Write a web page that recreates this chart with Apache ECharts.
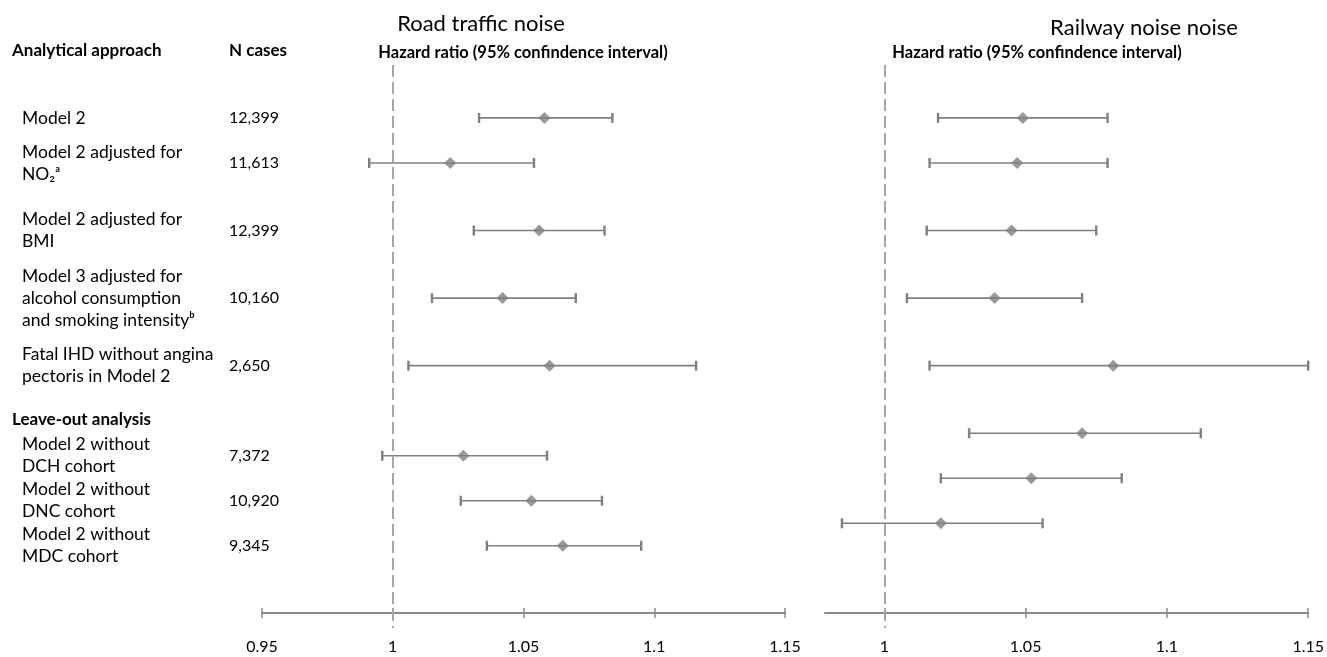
<!DOCTYPE html>
<html>
<head>
<meta charset="utf-8">
<script src="https://cdn.jsdelivr.net/npm/echarts@6/dist/echarts.min.js"></script>
<style>
  html, body { margin: 0; padding: 0; background: #fff; }
  #chart { width: 1327px; height: 657px; }
</style>
</head>
<body>
<div id="chart"></div>
<script>
// ---------------- DATA ----------------
const approaches = [
  'Model 2',
  'Model 2 adjusted for\nNO₂ᵃ',
  'Model 2 adjusted for\nBMI',
  'Model 3 adjusted for\nalcohol consumption\nand smoking intensityᵇ',
  'Fatal IHD without angina\npectoris in Model 2',
  'Model 2 without\nDCH cohort',
  'Model 2 without\nDNC cohort',
  'Model 2 without\nMDC cohort'
];
const nCases = ['12,399', '11,613', '12,399', '10,160', '2,650', '7,372', '10,920', '9,345'];

const roadHR   = [1.058, 1.022, 1.056, 1.042, 1.060, 1.027, 1.053, 1.065];
const roadLow  = [1.033, 0.991, 1.031, 1.015, 1.006, 0.996, 1.026, 1.036];
const roadHigh = [1.084, 1.054, 1.081, 1.070, 1.116, 1.059, 1.080, 1.095];

const railHR   = [1.049, 1.047, 1.045, 1.039, 1.081, 1.070, 1.052, 1.020];
const railLow  = [1.019, 1.016, 1.015, 1.008, 1.016, 1.030, 1.020, 0.985];
const railHigh = [1.079, 1.079, 1.075, 1.070, 1.150, 1.112, 1.084, 1.056];

const roadTicks = [0.95, 1, 1.05, 1.1, 1.15];
const railTicks = [1, 1.05, 1.1, 1.15];

// ---------------- LAYOUT (row slots on the vertical value scale) ----------------
const rowSlotsRoad = [0, 2, 5, 8, 11, 15, 17, 19];
const rowSlotsRail = [0, 2, 5, 8, 11, 14, 16, 18];

const FONT = 'Lato, "Noto Sans", sans-serif';
const GREY = '#7f7f7f';
const AXIS = '#8a8a8a';

function errRender(params, api) {
  const p1 = api.coord([api.value(0), api.value(2)]);
  const p2 = api.coord([api.value(1), api.value(2)]);
  const h = 5;
  return {
    type: 'group',
    children: [
      { type: 'line', shape: { x1: p1[0], y1: p1[1], x2: p2[0], y2: p2[1] }, style: { stroke: GREY, lineWidth: 1.6 } },
      { type: 'line', shape: { x1: p1[0], y1: p1[1] - h, x2: p1[0], y2: p1[1] + h }, style: { stroke: GREY, lineWidth: 2.4 } },
      { type: 'line', shape: { x1: p2[0], y1: p2[1] - h, x2: p2[0], y2: p2[1] + h }, style: { stroke: GREY, lineWidth: 2.4 } }
    ]
  };
}

function xAxes(gridIndex, min, max, ticks) {
  return [
    {
      gridIndex, type: 'value', min, max, position: 'bottom', offset: -15,
      axisLine: { onZero: false, lineStyle: { color: AXIS, width: 2 } },
      axisTick: { customValues: ticks, length: 5, lineStyle: { color: AXIS, width: 1.5 } },
      axisLabel: {
        customValues: ticks, margin: 26, fontFamily: FONT, fontSize: 16, color: '#000',
        formatter: v => String(+(+v).toFixed(2))
      },
      splitLine: { show: false }
    },
    {
      gridIndex, type: 'value', min, max, position: 'bottom', offset: -15,
      axisLine: { show: false, onZero: false },
      axisTick: { customValues: ticks, inside: true, length: 5, lineStyle: { color: AXIS, width: 1.5 } },
      axisLabel: { show: false },
      splitLine: { show: false }
    }
  ];
}

const Y_MIN = -2.35, Y_MAX = 22.65;

const option = {
  animation: false,
  backgroundColor: '#fff',
  grid: [
    { left: 262, right: 1327 - 785, top: 65, bottom: 29 },
    { left: 825, right: 18, top: 65, bottom: 29 }
  ],
  xAxis: [
    ...xAxes(0, 0.95, 1.15, roadTicks),
    ...xAxes(1, 0.979, 1.15, railTicks)
  ],
  yAxis: [
    {
      gridIndex: 0, type: 'value', inverse: true, min: Y_MIN, max: Y_MAX, position: 'left',
      axisLine: { show: false, onZero: false }, axisTick: { show: false }, splitLine: { show: false },
      axisLabel: {
        customValues: rowSlotsRoad, align: 'left', margin: 240,
        fontFamily: FONT, fontSize: 17.5, lineHeight: 22, color: '#000',
        formatter: v => approaches[rowSlotsRoad.indexOf(+v)] || ''
      }
    },
    {
      gridIndex: 0, type: 'value', inverse: true, min: Y_MIN, max: Y_MAX, position: 'left', offset: 0,
      axisLine: { show: false, onZero: false }, axisTick: { show: false }, splitLine: { show: false },
      axisLabel: {
        customValues: rowSlotsRoad, align: 'left', margin: 33,
        fontFamily: FONT, fontSize: 16, color: '#000',
        formatter: v => nCases[rowSlotsRoad.indexOf(+v)] || ''
      }
    },
    {
      gridIndex: 1, type: 'value', inverse: true, min: Y_MIN, max: Y_MAX,
      axisLine: { show: false, onZero: false }, axisTick: { show: false }, splitLine: { show: false },
      axisLabel: { show: false }
    }
  ],
  graphic: [
    { type: 'text', x: 481, y: 24, style: { text: 'Road traffic noise', font: '22px ' + FONT, fill: '#000', textAlign: 'center', textVerticalAlign: 'middle' } },
    { type: 'text', x: 1144, y: 28, style: { text: 'Railway noise noise', font: '22px ' + FONT, fill: '#000', textAlign: 'center', textVerticalAlign: 'middle' } },
    { type: 'text', x: 12, y: 51, style: { text: 'Analytical approach', font: 'bold 17px ' + FONT, fill: '#000', textAlign: 'left', textVerticalAlign: 'middle' } },
    { type: 'text', x: 229, y: 51, style: { text: 'N cases', font: 'bold 17px ' + FONT, fill: '#000', textAlign: 'left', textVerticalAlign: 'middle' } },
    { type: 'text', x: 523, y: 53, style: { text: 'Hazard ratio (95% confindence interval)', font: 'bold 16.5px ' + FONT, fill: '#000', textAlign: 'center', textVerticalAlign: 'middle' } },
    { type: 'text', x: 1037, y: 53, style: { text: 'Hazard ratio (95% confindence interval)', font: 'bold 16.5px ' + FONT, fill: '#000', textAlign: 'center', textVerticalAlign: 'middle' } },
    { type: 'text', x: 12, y: 420, style: { text: 'Leave-out analysis', font: 'bold 17px ' + FONT, fill: '#000', textAlign: 'left', textVerticalAlign: 'middle' } }
  ],
  series: [
    {
      type: 'custom', xAxisIndex: 0, yAxisIndex: 0, renderItem: errRender, clip: false,
      encode: { x: [0, 1], y: 2 },
      data: roadLow.map((l, i) => [l, roadHigh[i], rowSlotsRoad[i]]), z: 2
    },
    {
      type: 'scatter', xAxisIndex: 0, yAxisIndex: 0, symbol: 'diamond', symbolSize: 12,
      itemStyle: { color: GREY }, z: 3, silent: true,
      data: roadHR.map((v, i) => [v, rowSlotsRoad[i]]),
      markLine: {
        silent: true, symbol: ['none', 'none'], label: { show: false },
        lineStyle: { color: '#a6a6a6', type: [12, 5], width: 2 },
        data: [{ xAxis: 1 }]
      }
    },
    {
      type: 'custom', xAxisIndex: 2, yAxisIndex: 2, renderItem: errRender, clip: false,
      encode: { x: [0, 1], y: 2 },
      data: railLow.map((l, i) => [l, railHigh[i], rowSlotsRail[i]]), z: 2
    },
    {
      type: 'scatter', xAxisIndex: 2, yAxisIndex: 2, symbol: 'diamond', symbolSize: 12,
      itemStyle: { color: GREY }, z: 3, silent: true,
      data: railHR.map((v, i) => [v, rowSlotsRail[i]]),
      markLine: {
        silent: true, symbol: ['none', 'none'], label: { show: false },
        lineStyle: { color: '#a6a6a6', type: [12, 5], width: 2 },
        data: [{ xAxis: 1 }]
      }
    }
  ]
};

const chart = echarts.init(document.getElementById('chart'), null, { renderer: 'canvas' });
chart.setOption(option);
</script>
</body>
</html>
